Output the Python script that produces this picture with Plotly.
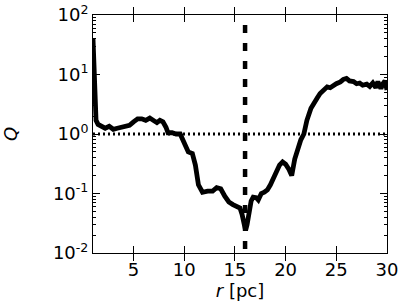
import plotly.graph_objects as go

r_pc = [1.0, 1.05, 1.1, 1.2, 1.3, 1.5, 1.8, 2.2, 2.6, 3.0, 3.4, 3.8, 4.2, 4.6, 5.0, 5.4, 5.8, 6.2, 6.6, 7.0,
        7.3, 7.6, 7.9, 8.2, 8.4, 8.8, 9.2, 9.6, 9.9, 10.1, 10.4, 10.8, 11.1, 11.4, 11.8, 12.3, 12.8, 13.2,
        13.6, 14.0, 14.4, 14.8, 15.2, 15.5, 15.7, 15.9, 16.05, 16.2, 16.4, 16.6, 16.8, 17.1, 17.3, 17.6,
        17.9, 18.2, 18.5, 18.8, 19.1, 19.4, 19.7, 20.0, 20.3, 20.6, 20.9, 21.2, 21.5, 21.8, 22.1, 22.5,
        22.8, 23.1, 23.4, 23.8, 24.1, 24.4, 24.7, 25.0, 25.4, 25.7, 26.0, 26.3, 26.7, 27.0, 27.3, 27.6,
        28.0, 28.3, 28.6, 28.9, 29.1, 29.4, 29.6, 29.8, 30.0]
Q_vals = [40, 20, 6, 2.5, 1.7, 1.45, 1.33, 1.25, 1.35, 1.2, 1.25, 1.3, 1.3, 1.4, 1.6, 1.8, 1.8, 1.7, 1.85, 1.7,
          1.55, 1.7, 1.6, 1.3, 1.05, 1.05, 1.0, 1.0, 0.75, 0.6, 0.5, 0.47, 0.3, 0.14, 0.105, 0.11, 0.11, 0.125,
          0.12, 0.09, 0.072, 0.065, 0.06, 0.057, 0.045, 0.032, 0.024, 0.03, 0.05, 0.075, 0.087, 0.085, 0.078, 0.1,
          0.105, 0.115, 0.14, 0.18, 0.25, 0.3, 0.34, 0.31, 0.26, 0.2, 0.38, 0.58, 0.8, 1.0, 1.7, 2.7,
          3.4, 4.0, 4.8, 5.6, 6.2, 6.0, 6.6, 7.0, 7.5, 8.3, 8.6, 7.8, 7.6, 7.0, 7.2, 6.6,
          6.9, 6.3, 7.2, 6.0, 7.6, 5.8, 7.0, 7.8, 5.5]

Q_threshold = [1.0, 1.0]
threshold_r = [1.0, 30.0]
r_mark = [16.0, 16.0]
r_mark_Q = [100.0, 0.01]

x_ticks = [5, 10, 15, 20, 25, 30]
y_ticks = [0.01, 0.1, 1, 10, 100]
y_ticktext = ["10<sup>-2</sup>", "10<sup>-1</sup>", "10<sup>0</sup>", "10<sup>1</sup>", "10<sup>2</sup>"]

FONT = "DejaVu Sans"

fig = go.Figure()
fig.add_trace(go.Scatter(x=threshold_r, y=Q_threshold, mode="lines",
                         line=dict(color="black", width=3, dash="2px,3px"), hoverinfo="skip"))
fig.add_trace(go.Scatter(x=r_mark, y=r_mark_Q, mode="lines",
                         line=dict(color="black", width=4.5, dash="0px,10px,8px,0px"), hoverinfo="skip"))
fig.add_trace(go.Scatter(x=r_pc, y=Q_vals, mode="lines",
                         line=dict(color="black", width=4.8), hoverinfo="skip"))
# invisible trace on right axis for mirrored minor ticks
fig.add_trace(go.Scatter(x=r_mark, y=r_mark_Q, mode="lines", yaxis="y2",
                         line=dict(color="rgba(0,0,0,0)", width=0), hoverinfo="skip"))

fig.update_layout(
    width=407, height=305,
    margin=dict(l=93, r=20, t=15, b=52, autoexpand=False),
    paper_bgcolor="white", plot_bgcolor="white",
    showlegend=False,
    font=dict(family=FONT, size=18, color="black"),
)
fig.update_xaxes(
    range=[1.0, 30], tickvals=x_ticks, ticks="inside", ticklen=7, tickwidth=1, tickcolor="black",
    showline=True, linecolor="black", linewidth=1, mirror="allticks", showgrid=False, zeroline=False,
    tickfont=dict(family=FONT, size=18), automargin=False,
    title=dict(text="<i>r</i> [pc]", font=dict(family=FONT, size=18), standoff=4),
)
fig.update_layout(yaxis=dict(
    type="log", range=[-2, 2], tickvals=y_ticks, ticktext=y_ticktext, ticks="inside", ticklen=7,
    tickwidth=1, tickcolor="black", automargin=False,
    showline=True, linecolor="black", linewidth=1, mirror="allticks", showgrid=False, zeroline=False,
    tickfont=dict(family=FONT, size=18),
    minor=dict(ticks="inside", ticklen=3, tickcolor="black", dtick="D1", showgrid=False),
    title=dict(text="<i>Q</i>", font=dict(family=FONT, size=18), standoff=36),
), yaxis2=dict(
    type="log", range=[-2, 2], overlaying="y", side="right", tickvals=y_ticks, showticklabels=False,
    ticks="inside", ticklen=7, tickwidth=1, tickcolor="black", showgrid=False, zeroline=False,
    showline=False, automargin=False,
    minor=dict(ticks="inside", ticklen=3, tickcolor="black", dtick="D1", showgrid=False),
))

fig.write_html("out.html", config={"displayModeBar": False})
with open("out.html", "r", encoding="utf-8") as f:
    html = f.read()
html = html.replace("<body>", '<body style="margin:0;padding:0;overflow:hidden">', 1)
with open("out.html", "w", encoding="utf-8") as f:
    f.write(html)
